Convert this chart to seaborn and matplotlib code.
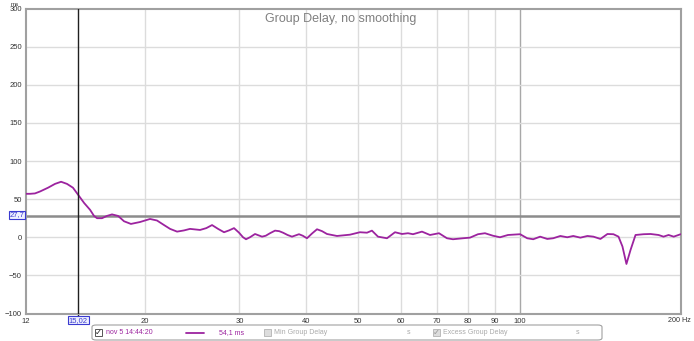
import numpy as np
import pandas as pd
import matplotlib
matplotlib.use("Agg")
import matplotlib.pyplot as plt
import seaborn as sns
from matplotlib.patches import FancyBboxPatch, Rectangle
from matplotlib.lines import Line2D

freq = [12.0, 12.21, 12.47, 12.74, 13.19, 13.59, 13.95, 14.31, 14.68, 15.0,
        15.4, 15.8, 16.07, 16.28, 16.63, 16.99, 17.36, 17.82, 18.28, 18.83,
        19.58, 20.44, 21.06, 21.71, 22.28, 22.96, 23.66, 24.27, 25.34, 26.03,
        26.68, 27.38, 28.09, 28.7, 29.32, 29.96, 30.48, 30.87, 31.4, 32.09,
        33.07, 33.6, 34.22, 34.97, 35.6, 36.19, 36.9, 37.61, 38.76, 39.4,
        40.11, 41.0, 41.88, 42.8, 43.71, 45.63, 48.25, 50.36, 51.9, 53.02,
        54.42, 56.56, 58.54, 60.33, 61.9, 63.25, 65.74, 68.04, 70.72, 73.19,
        75.1, 78.4, 80.79, 83.62, 86.17, 89.19, 91.91, 95.12, 100.2, 103.3,
        106.0, 109.2, 112.6, 115.5, 119.1, 122.7, 125.9, 129.8, 133.8, 137.3,
        141.5, 145.8, 149.6, 152.9, 155.5, 158.2, 161.0, 164.5, 170.3, 175.5,
        181.6, 185.5, 189.6, 193.8, 199.7]
delay = [57, 57, 57.5, 60, 65, 70, 72.8, 70, 65, 56,
         45, 36, 28, 25, 25, 28, 30, 28, 21, 17.5,
         20, 24, 22, 16, 11, 7.4, 9, 11, 9.6, 12,
         16, 11, 6.6, 9, 12, 6, 0, -2.6, 0, 4.3,
         0.8, 2, 5.3, 8.7, 8, 6, 3, 0.8, 4, 2,
         -1.3, 5, 10.5, 8, 4.3, 1.7, 3.4, 6.6, 6, 8.7,
         0.8, -1.3, 6.6, 4.3, 5.3, 4, 7.4, 3, 5.3, -1.3,
         -2.6, -1.3, -0.5, 4, 5.3, 2, 0, 3, 4, -1.3,
         -2.6, 0.8, -2.2, -1.3, 1.7, 0, 1.7, -0.5, 1.7, 0.8,
         -2.2, 4.3, 4, 0.8, -12, -35, -16.7, 3, 4, 4.3,
         3, 0.8, 3, 0.8, 4]

x_ticks = [12, 20, 30, 40, 50, 60, 70, 80, 90, 100, 200]
x_labels = ["12", "20", "30", "40", "50", "60", "70", "80", "90", "100", ""]
y_ticks = [-100, -50, 0, 50, 100, 150, 200, 250, 300]
cursor_ms = 27.7
cursor_hz = 15.02

df = pd.DataFrame({"Hz": freq, "ms": delay})

sns.set_style("white")
plt.rcParams["font.family"] = ["Liberation Sans", "DejaVu Sans"]

fig = plt.figure(figsize=(6.94, 3.41), dpi=100)
ax = fig.add_axes([0.0375, 0.0806, 0.9438, 0.8944])

ax.set_xscale("log")
ax.set_xlim(12, 200)
ax.set_ylim(-100, 300)

# grid
for f in x_ticks[1:-1]:
    ax.axvline(f, color="#a8a8a8" if f == 100 else "#dcdcdc", lw=1, zorder=0)
for v in y_ticks[1:-1]:
    ax.axhline(v, color="#dcdcdc", lw=1, zorder=0)

sns.lineplot(data=df, x="Hz", y="ms", ax=ax, color="#9c239f", lw=1.3, zorder=3)

# cursors
ax.axhline(cursor_ms, color="#8c8c8c", lw=1.8, zorder=2)
ax.axvline(cursor_hz, color="#202020", lw=1, zorder=4, ymin=0, ymax=1)
ax.plot([cursor_hz, cursor_hz], [-100, -104], color="#202020", lw=1,
        clip_on=False)

ax.set_xticks(x_ticks)
ax.set_xticklabels(x_labels)
ax.minorticks_off()
ax.set_yticks(y_ticks)
ax.tick_params(length=0, labelsize=5.5, labelcolor="#333333", pad=3)
ax.set_xlabel("")
ax.set_ylabel("")

for s in ax.spines.values():
    s.set_color("#a0a0a0")
    s.set_linewidth(1.5)

ax.text(0.481, 0.985, "Group Delay, no smoothing", transform=ax.transAxes,
        ha="center", va="top", fontsize=9, color="#808080")
fig.text(15 / 694, 1 - 4 / 341, "ms", ha="center", va="center", fontsize=4.5,
         color="#333333")
fig.text(691 / 694, 1 - 320.5 / 341, "200 Hz", ha="right", va="center",
         fontsize=5.2, color="#333333")

# cursor value boxes
blue = "#3a3ad0"
ax.text(cursor_hz, -104, "15,02", ha="center", va="top", fontsize=5.5,
        color=blue, bbox=dict(boxstyle="square,pad=0.1", fc="#eef0ff",
                              ec=blue, lw=0.8))
fig.text(17 / 694, 1 - 215 / 341, "27,7", ha="center", va="center",
         fontsize=5.5, color=blue,
         bbox=dict(boxstyle="square,pad=0.1", fc="#eef0ff", ec=blue, lw=0.8))

# legend strip
W, H = 694, 341
def fx(px):
    return px / W
def fy(py):
    return 1 - py / H

fig.patches.append(FancyBboxPatch((fx(92), fy(340)), fx(602) - fx(92),
                                  fy(325) - fy(340),
                                  boxstyle="round,pad=0,rounding_size=0.006",
                                  transform=fig.transFigure, fc="white",
                                  ec="#a0a0a0", lw=0.8))
ty = fy(332.5)
purple = "#9c239f"
fig.patches.append(Rectangle((fx(95), fy(336)), fx(7), fy(329) - fy(336),
                             transform=fig.transFigure, fc="white",
                             ec="#555555", lw=0.7))
fig.text(fx(98.5), ty, "\u2713", ha="center", va="center", fontsize=6,
         color="#222222", family=["DejaVu Sans"])
fig.text(fx(106), ty, "nov 5 14:44:20", ha="left", va="center", fontsize=5,
         color=purple)
fig.lines.append(Line2D([fx(186), fx(204)], [ty, ty], color=purple, lw=1.3,
                        transform=fig.transFigure))
fig.text(fx(219), ty, "54,1 ms", ha="left", va="center", fontsize=5,
         color=purple)
fig.patches.append(Rectangle((fx(264), fy(336)), fx(7), fy(329) - fy(336),
                             transform=fig.transFigure, fc="#dddddd",
                             ec="#bbbbbb", lw=0.7))
fig.text(fx(274), ty, "Min Group Delay", ha="left", va="center", fontsize=5,
         color="#aaaaaa")
fig.text(fx(409), ty, "s", ha="center", va="center", fontsize=5,
         color="#aaaaaa")
fig.patches.append(Rectangle((fx(433), fy(336)), fx(7), fy(329) - fy(336),
                             transform=fig.transFigure, fc="#dddddd",
                             ec="#bbbbbb", lw=0.7))
fig.text(fx(436.5), ty, "\u2713", ha="center", va="center", fontsize=6,
         color="#999999", family=["DejaVu Sans"])
fig.text(fx(443), ty, "Excess Group Delay", ha="left", va="center",
         fontsize=5, color="#aaaaaa")
fig.text(fx(578), ty, "s", ha="center", va="center", fontsize=5,
         color="#aaaaaa")

fig.savefig("out.png", dpi=100)
